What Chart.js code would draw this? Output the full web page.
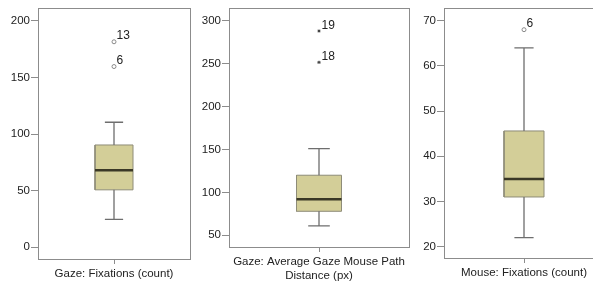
<!DOCTYPE html>
<html>
<head>
<meta charset="utf-8">
<script src="https://cdn.jsdelivr.net/npm/chart.js@4.4.1/dist/chart.umd.min.js"></script>
<style>
  body { margin: 0; background: #fff; }
  #wrap { position: relative; width: 593px; height: 281px; overflow: hidden; }
  canvas { position: absolute; top: 0; }
</style>
</head>
<body>
<div id="wrap">
  <canvas id="c1" width="196" height="281" style="left:0px"></canvas>
  <canvas id="c2" width="218" height="281" style="left:196px"></canvas>
  <canvas id="c3" width="200" height="281" style="left:414px"></canvas>
</div>
<script>
// box plot values per variable
const labels = [
  ['Gaze: Fixations (count)'],
  ['Gaze: Average Gaze Mouse Path', 'Distance (px)'],
  ['Mouse: Fixations (count)']
];
const whiskerLow = [24.5, 61, 22];
const q1 = [50.6, 78, 31];
const median = [68, 92, 35];
const q3 = [90.3, 120, 45.6];
const whiskerHigh = [110.4, 151, 64];
const outlierValues = [[159.7, 181.6], [251.5, 288], [68]];
const outlierIds = [['6', '13'], ['18', '19'], ['6']];
const outlierStyle = ['circle', 'star', 'circle'];
const yTicks = [[0, 50, 100, 150, 200], [50, 100, 150, 200, 250, 300], [20, 30, 40, 50, 60, 70]];
const yMin = [-10.6, 36.4, 17.5];
const yMax = [211.5, 314.8, 72.8];

// layout per panel
const axisWidth = [38, 33, 30];
const axisHeight = [22, 34, 23];
const padRight = [6, 3, 10];

const FONT = { family: '"Liberation Sans", Arial, sans-serif', size: 11.5 };
const BOX_HALF = 0.25, CAP_HALF = 0.12;

// frame round the plot area, and outlier case numbers
const framePlugin = {
  id: 'frame',
  afterDatasetsDraw(chart) {
    const { ctx, chartArea: a } = chart;
    ctx.save();
    ctx.strokeStyle = '#8c8c8c';
    ctx.lineWidth = 1;
    ctx.strokeRect(Math.round(a.left) + 0.5, Math.round(a.top) + 0.5,
      Math.round(a.right - a.left), Math.round(a.bottom - a.top));
    const i = chart.options.panel;
    const meta = chart.getDatasetMeta(chart.data.datasets.length - 1);
    ctx.fillStyle = '#222';
    ctx.font = '12px ' + FONT.family;
    ctx.textBaseline = 'alphabetic';
    meta.data.forEach((pt, k) => {
      ctx.fillText(outlierIds[i][k], pt.x + 2.5, pt.y - 2.5);
    });
    ctx.restore();
  }
};

function makeChart(id, i) {
  const lo = whiskerLow[i], a = q1[i], m = median[i], b = q3[i], hi = whiskerHigh[i];
  new Chart(document.getElementById(id), {
    type: 'line',
    data: {
      datasets: [
        {
          // box
          order: 5,
          data: [
            { x: 1 - BOX_HALF, y: a }, { x: 1 + BOX_HALF, y: a },
            { x: 1 + BOX_HALF, y: b }, { x: 1 - BOX_HALF, y: b }, { x: 1 - BOX_HALF, y: a }
          ],
          fill: 'shape',
          backgroundColor: '#d3ce98',
          borderColor: '#8e8c78',
          borderWidth: 1,
          pointRadius: 0,
          tension: 0
        },
        {
          // median
          order: 1,
          data: [{ x: 1 - BOX_HALF, y: m }, { x: 1 + BOX_HALF, y: m }],
          borderColor: '#3a3826',
          borderWidth: 2.5,
          pointRadius: 0
        },
        {
          // whiskers and caps
          order: 2,
          data: [
            { x: 1, y: b }, { x: 1, y: hi }, { x: 1, y: null },
            { x: 1 - CAP_HALF, y: hi }, { x: 1 + CAP_HALF, y: hi }, { x: 1, y: null },
            { x: 1, y: a }, { x: 1, y: lo }, { x: 1, y: null },
            { x: 1 - CAP_HALF, y: lo }, { x: 1 + CAP_HALF, y: lo }
          ],
          borderColor: '#6e6e6e',
          borderWidth: 1.3,
          pointRadius: 0,
          spanGaps: false
        },
        {
          // outliers
          order: 0,
          data: outlierValues[i].map(v => ({ x: 1, y: v })),
          showLine: false,
          pointStyle: outlierStyle[i],
          pointRadius: outlierStyle[i] === 'star' ? 1.6 : 2,
          pointBorderWidth: 1,
          pointBorderColor: outlierStyle[i] === 'star' ? '#444' : '#8a8a8a',
          pointBackgroundColor: '#fff'
        }
      ]
    },
    options: {
      panel: i,
      responsive: false,
      animation: false,
      layout: { padding: { top: 8, left: 0, right: padRight[i], bottom: 0 } },
      plugins: { legend: { display: false }, tooltip: { enabled: false } },
      scales: {
        x: {
          type: 'linear',
          min: 0,
          max: 2,
          border: { display: false },
          grid: { drawOnChartArea: false, drawTicks: true, tickLength: 5, color: '#8c8c8c' },
          afterBuildTicks: s => { s.ticks = [{ value: 1 }]; },
          afterFit: s => { s.height = axisHeight[i]; },
          ticks: {
            padding: 3,
            maxRotation: 0,
            autoSkip: false,
            color: '#222',
            font: FONT,
            callback: () => labels[i]
          }
        },
        y: {
          min: yMin[i],
          max: yMax[i],
          border: { display: false },
          grid: { drawOnChartArea: false, drawTicks: true, tickLength: 7, color: '#8c8c8c' },
          afterBuildTicks: s => { s.ticks = yTicks[i].map(v => ({ value: v })); },
          afterFit: s => { s.width = axisWidth[i]; },
          ticks: { padding: 1, color: '#222', font: FONT }
        }
      }
    },
    plugins: [framePlugin]
  });
}

makeChart('c1', 0);
makeChart('c2', 1);
makeChart('c3', 2);
</script>
</body>
</html>
